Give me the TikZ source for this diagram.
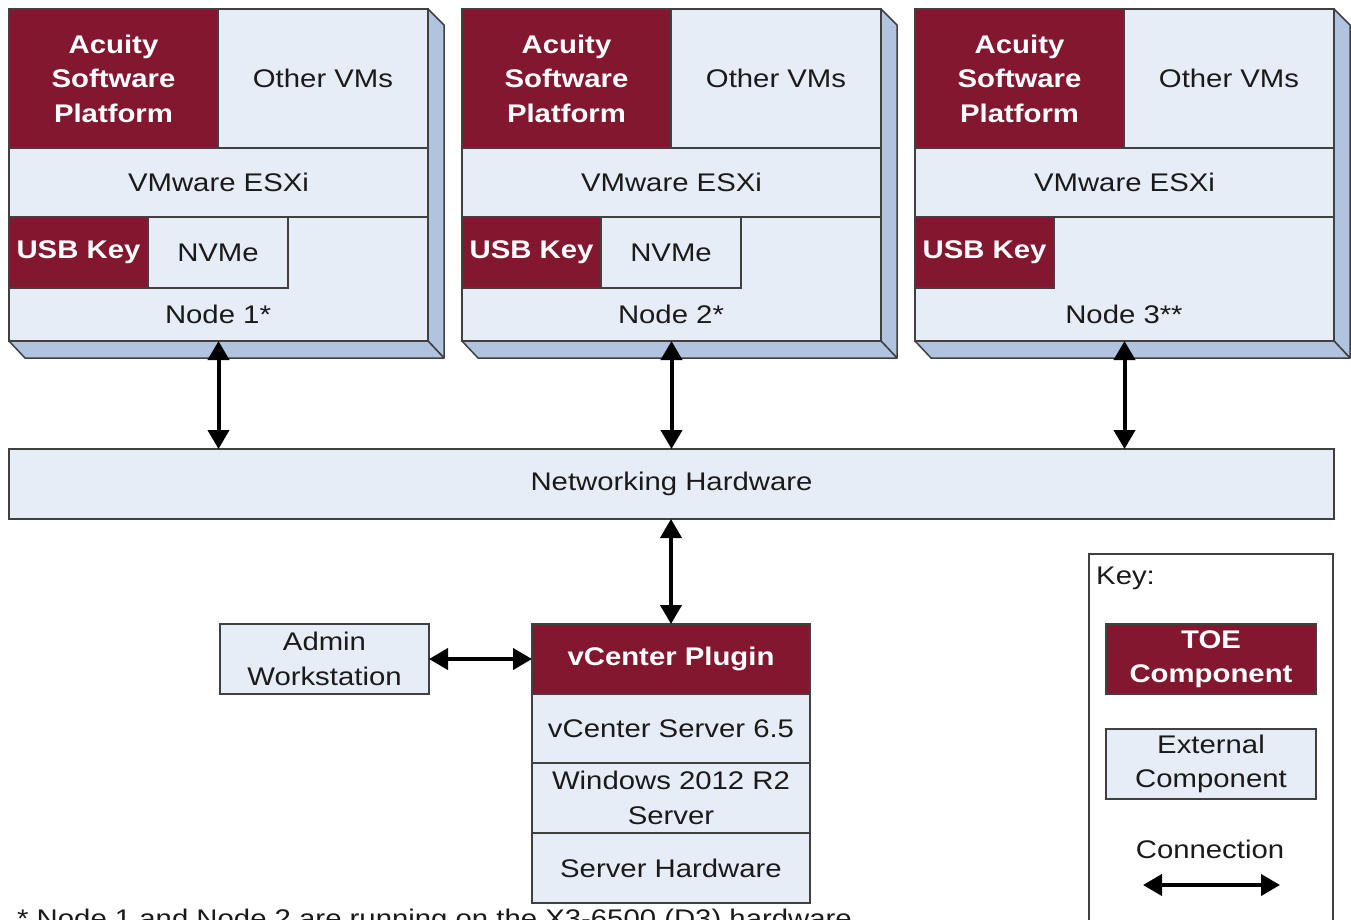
\documentclass[tikz,border=0pt]{standalone}
\usepackage{fontspec}
\setmainfont{Liberation Sans}[FakeStretch=1.15]
\usetikzlibrary{arrows.meta}
\definecolor{toered}{RGB}{130,23,47}
\definecolor{extblue}{RGB}{230,237,247}
\definecolor{sideblue}{RGB}{176,196,224}
\definecolor{bord}{RGB}{64,64,64}
\definecolor{txt}{RGB}{26,26,26}
\newcommand{\fsz}{\fontsize{25.5}{34.5}\selectfont}
\tikzset{
  box/.style={draw=bord, line width=1.5pt, inner sep=0pt, outer sep=0pt, align=center},
  toe/.style={box, fill=toered, text=white, font=\fsz\bfseries},
  ext/.style={box, fill=extblue, text=txt, font=\fsz},
  side/.style={draw=bord, line width=1.5pt, fill=sideblue, line join=round},
  conn/.style={line width=4pt, {Triangle[length=19pt,width=21pt]}-{Triangle[length=19pt,width=21pt]}},
  lbl/.style={text=txt, font=\fsz, inner sep=0pt},
}
% \bx[style]{name}{x1}{y1}{x2}{y2}{text}
\newcommand{\bx}[7][ext]{%
  \pgfmathsetmacro\myBW{#5-#3}%
  \pgfmathsetmacro\myBH{#6-#4}%
  \node[#1, minimum width=\myBW pt, minimum height=\myBH pt] (#2) at ({(#3+#5)/2},{(#4+#6)/2}) {#7};}
\begin{document}
\begin{tikzpicture}[x=1pt,y=-1pt]
\useasboundingbox (0,0) rectangle (1351,919);
\fill[white] (0,0) rectangle (1351,919);
% three nodes
\foreach \i/\dx in {1/0,2/453,3/906}{
  \begin{scope}[xshift=\dx pt]
    \draw[side] (428,9) -- (444,25) -- (444,358) -- (428,341) -- cycle;
    \draw[side] (9,341) -- (25,358) -- (444,358) -- (428,341) -- cycle;
    \bx{node\i}{9}{9}{428}{341}{}
    \bx[toe]{asp\i}{9}{9}{218}{148}{Acuity\\Software\\Platform}
    \bx{ovm\i}{218}{9}{428}{148}{Other VMs}
    \bx{esx\i}{9}{148}{428}{217}{VMware ESXi}
    \bx[toe]{usb\i}{9}{217}{148}{288}{USB Key}
  \end{scope}
}
\bx{nvme1}{148}{217}{288}{288}{NVMe}
\bx{nvme2}{601}{217}{741}{288}{NVMe}
\node[lbl] (lab1) at (218,314) {Node 1*};
\node[lbl] (lab2) at (671,314) {Node 2*};
\node[lbl] (lab3) at (1124,314) {Node 3**};
% networking
\bx{net}{9}{449}{1334}{519}{Networking Hardware}
\foreach \i in {1,2,3}{
  \draw[conn] (node\i.south) -- (node\i.south |- net.north);
}
% vcenter stack
\bx[toe]{plug}{532}{624}{810}{694}{vCenter Plugin}
\bx{vcs}{532}{694}{810}{763}{vCenter Server 6.5}
\bx{win}{532}{763}{810}{833}{Windows 2012 R2\\Server}
\bx{hw}{532}{833}{810}{903}{Server Hardware}
\draw[conn] (net.south -| plug.north) -- (plug.north);
\bx{admin}{220}{624}{429}{694}{Admin\\Workstation}
\draw[conn] (admin.east) -- (plug.west);
% key
\draw[draw=bord, line width=1.5pt] (1089,930) -- (1089,554) -- (1333,554) -- (1333,930);
\node[lbl, anchor=west] (keyt) at (1096,578) {Key:};
\bx[toe]{ktoe}{1106}{624}{1316}{694}{TOE\\Component}
\bx{kext}{1106}{729}{1316}{799}{External\\Component}
\node[lbl] (kconn) at (1210,849) {Connection};
\coordinate (ka) at (1143,885);
\coordinate (kb) at (1280,885);
\draw[conn] (ka) -- (kb);
% footnote (cut off at the bottom)
\node[lbl, anchor=base west] (foot) at (17,927) {* Node 1 and Node 2 are running on the X3-6500 (D3) hardware};
\end{tikzpicture}
\end{document}
